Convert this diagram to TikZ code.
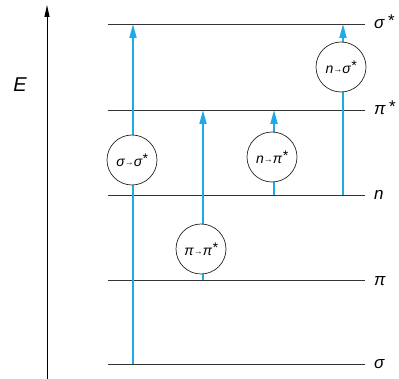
\documentclass[tikz,border=0pt]{standalone}
\usepackage{fontspec}
\setmainfont{Liberation Sans}
\usetikzlibrary{arrows.meta}
\definecolor{tr}{RGB}{30,170,230}
\newcommand{\sarr}{{\fontsize{9}{9}\selectfont\raisebox{0.15ex}{→}}}
\begin{document}
\begin{tikzpicture}[x=1pt,y=-1pt,
  level/.style={draw=black!80, line width=0.8pt},
  trans/.style={draw=tr, line width=1.8pt, -{Triangle[length=14pt,width=7pt]}},
  circ/.style={circle, draw=black!85, line width=0.7pt, fill=white, minimum size=50pt, inner sep=0pt, font=\itshape\fontsize{14}{14}\selectfont},
  lab/.style={anchor=west, inner sep=0pt, font=\itshape\fontsize{17}{17}\selectfont}]
\useasboundingbox (0,0) rectangle (399,379);
% axis
\coordinate (ax0) at (47,379);
\coordinate (ax1) at (47,5);
\draw[line width=0.9pt, -{Triangle[length=12pt,width=5pt]}] (ax0) -- (ax1);
\node[font=\itshape\fontsize{20}{20}\selectfont] (E) at (20,85) {E};
% levels
\coordinate (ssL) at (108,24);  \coordinate (ssR) at (365,24);
\coordinate (ppL) at (108,110); \coordinate (ppR) at (365,110);
\coordinate (nL)  at (108,195); \coordinate (nR)  at (365,195);
\coordinate (pL)  at (108,280); \coordinate (pR)  at (365,280);
\coordinate (sL)  at (108,364); \coordinate (sR)  at (365,364);
\draw[level] (ssL) -- (ssR);
\draw[level] (ppL) -- (ppR);
\draw[level] (nL) -- (nR);
\draw[level] (pL) -- (pR);
\draw[level] (sL) -- (sR);
\node[lab] (lss) at (374,22) {σ\,\raisebox{0.2ex}{*}};
\node[lab] (lpp) at (374,108) {π\,\raisebox{0.2ex}{*}};
\node[lab] (ln)  at (374,195) {n};
\node[lab] (lp)  at (374,281) {π};
\node[lab] (ls)  at (374,364) {σ};
% transitions
\coordinate (t1a) at (133,364); \coordinate (t1b) at (133,24);
\coordinate (t2a) at (203,280); \coordinate (t2b) at (203,110);
\coordinate (t3a) at (274,195); \coordinate (t3b) at (274,110);
\coordinate (t4a) at (343,195); \coordinate (t4b) at (343,24);
\draw[trans] (t1a) -- (t1b);
\draw[trans] (t2a) -- (t2b);
\draw[trans] (t3a) -- (t3b);
\draw[trans] (t4a) -- (t4b);
\node[circ] (c1) at (132,160) {σ\sarr σ\raisebox{0.4ex}{*}};
\node[circ] (c2) at (201,249) {π\sarr π\raisebox{0.4ex}{*}};
\node[circ] (c3) at (272,157) {n\sarr π\raisebox{0.4ex}{*}};
\node[circ] (c4) at (341,67) {n\sarr σ\raisebox{0.4ex}{*}};
\end{tikzpicture}
\end{document}
